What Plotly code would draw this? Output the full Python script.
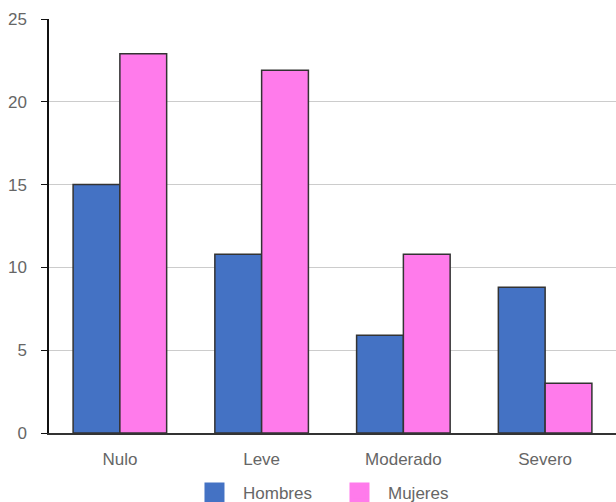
import plotly.graph_objects as go

categories = ["Nulo", "Leve", "Moderado", "Severo"]
hombres = [15.0, 10.8, 5.9, 8.8]
mujeres = [22.9, 21.9, 10.8, 3.0]
series_names = ["Hombres", "Mujeres"]
colors = ["#4472C4", "#FF7BEB"]
y_ticks = [0, 5, 10, 15, 20, 25]

FONT = "Liberation Sans, Arial, sans-serif"
FS = 17
TXT = "#666666"

fig = go.Figure()
for name, vals, col in zip(series_names, [hombres, mujeres], colors):
    fig.add_trace(go.Bar(
        x=categories, y=vals, name=name, showlegend=False,
        marker=dict(color=col, line=dict(color="#333333", width=1.5)),
    ))
for name, col in zip(series_names, colors):
    fig.add_trace(go.Scatter(
        x=[None], y=[None], mode="markers", name=name,
        marker=dict(symbol="square", size=16, color=col, line=dict(color=col, width=4)),
    ))

fig.update_layout(
    width=616, height=502,
    margin=dict(l=49, r=0, t=18.5, b=69.3, autoexpand=False),
    paper_bgcolor="white", plot_bgcolor="white",
    barmode="group", bargap=0.34, bargroupgap=0,
    font=dict(family=FONT, size=FS, color=TXT),
    legend=dict(orientation="h", x=0.2416, xanchor="left", y=-0.1012, yanchor="top",
                itemwidth=47, entrywidth=83,
                font=dict(family=FONT, size=FS, color=TXT)),
    xaxis=dict(showline=True, linecolor="#333333", linewidth=2, ticks="",
               showgrid=False, automargin=False, ticklabelstandoff=10,
               tickfont=dict(family=FONT, size=FS, color=TXT)),
    yaxis=dict(range=[0, 25], tickvals=y_ticks, showline=True, linecolor="#111111",
               linewidth=1.5, ticks="outside", ticklen=6, tickcolor="#111111",
               gridcolor="#CCCCCC", gridwidth=1, zeroline=False, automargin=False,
               ticklabelstandoff=11,
               tickfont=dict(family=FONT, size=FS, color=TXT)),
)

fig.write_html(
    "out.html",
    config={"displayModeBar": False},
    post_script="document.body.style.margin='0';document.body.style.overflow='hidden';",
)
